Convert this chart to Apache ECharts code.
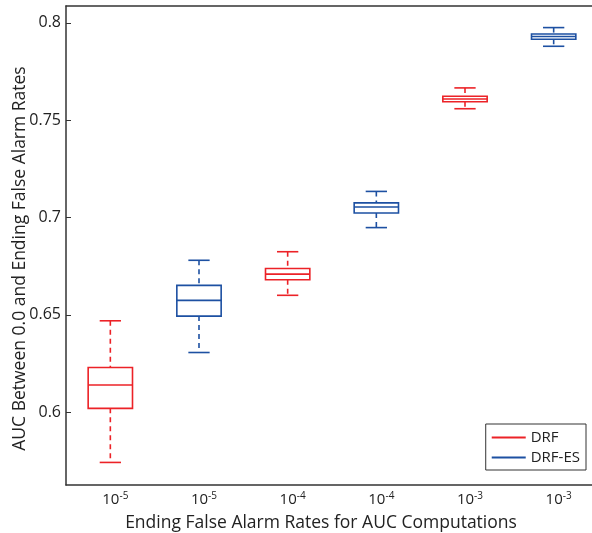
<!DOCTYPE html>
<html>
<head>
<meta charset="utf-8">
<script src="https://cdn.jsdelivr.net/npm/echarts@6/dist/echarts.min.js"></script>
<style>
  html, body { margin: 0; padding: 0; background: #fff; }
  #chart { width: 592px; height: 533px; }
</style>
</head>
<body>
<div id="chart"></div>
<script>
// tick labels along x (exponent of 10)
var categories = ['-5', '-5', '-4', '-4', '-3', '-3'];
var yTicks = [0.6, 0.65, 0.7, 0.75, 0.8];

// [category index, low whisker, q1, median, q3, high whisker]
var drfBoxes = [
    [0, 0.5741, 0.6019, 0.6139, 0.6229, 0.6469],
    [2, 0.6600, 0.6680, 0.6709, 0.6738, 0.6824],
    [4, 0.7559, 0.7595, 0.7609, 0.7623, 0.7666]
];
var drfEsBoxes = [
    [1, 0.6306, 0.6493, 0.6574, 0.6651, 0.6780],
    [3, 0.6948, 0.7023, 0.7054, 0.7075, 0.7134],
    [5, 0.7880, 0.7916, 0.7930, 0.7943, 0.7976]
];

var RED = '#ec2227';
var BLUE = '#1d50a2';
var AXIS = '#333';
var FONT = '"Open Sans", "Noto Sans", sans-serif';

function boxRenderer(color) {
    return function (params, api) {
        var x = api.value(0);
        var low = api.coord([x, api.value(1)]);
        var q1 = api.coord([x, api.value(2)]);
        var med = api.coord([x, api.value(3)]);
        var q3 = api.coord([x, api.value(4)]);
        var high = api.coord([x, api.value(5)]);
        var band = api.size([1, 0])[0];
        var bw = band * 0.25;
        var cw = band * 0.12;
        var cx = med[0];
        var solid = { stroke: color, lineWidth: 1.6, fill: null };
        var dashed = { stroke: color, lineWidth: 1.6, lineDash: [5, 4], fill: null };
        return {
            type: 'group',
            children: [
                { type: 'line', shape: { x1: cx, y1: high[1], x2: cx, y2: q3[1] }, style: dashed },
                { type: 'line', shape: { x1: cx, y1: q1[1], x2: cx, y2: low[1] }, style: dashed },
                { type: 'line', shape: { x1: cx - cw, y1: high[1], x2: cx + cw, y2: high[1] }, style: solid },
                { type: 'line', shape: { x1: cx - cw, y1: low[1], x2: cx + cw, y2: low[1] }, style: solid },
                { type: 'rect', shape: { x: cx - bw, y: q3[1], width: bw * 2, height: q1[1] - q3[1] }, style: solid },
                { type: 'line', shape: { x1: cx - bw, y1: med[1], x2: cx + bw, y2: med[1] }, style: solid }
            ]
        };
    };
}

var chart = echarts.init(document.getElementById('chart'));

var option = {
    animation: false,
    textStyle: { fontFamily: FONT },
    grid: { left: 66, right: -6, top: 6, bottom: 48, containLabel: false, outerBoundsMode: 'none' },
    legend: {
        right: 6,
        bottom: 63,
        orient: 'vertical',
        itemWidth: 34,
        itemHeight: 2,
        itemGap: 5,
        padding: [6, 6, 5, 6],
        borderColor: AXIS,
        borderWidth: 1,
        backgroundColor: '#fff',
        icon: 'rect',
        textStyle: { fontSize: 15, color: '#222', fontFamily: FONT, letterSpacing: 2.5 },
        data: [
            { name: 'DRF', itemStyle: { color: RED } },
            { name: 'DRF-ES', itemStyle: { color: BLUE } }
        ]
    },
    xAxis: [
        {
            type: 'category',
            data: categories,
            position: 'bottom',
            name: 'Ending False Alarm Rates for AUC Computations',
            nameLocation: 'middle',
            nameGap: 29,
            nameTextStyle: { fontSize: 17.5, color: '#222', fontFamily: FONT, padding: [0, 22, 0, 0] },
            axisLine: { lineStyle: { color: AXIS, width: 1.5 } },
            axisTick: { inside: true, alignWithLabel: true, interval: 0, length: 5, lineStyle: { color: AXIS } },
            axisLabel: {
                interval: 0,
                margin: 6,
                fontSize: 15,
                padding: [0, 0, 0, 10],
                formatter: function (v) { return '{b|10}{e|' + v + '}'; },
                rich: {
                    b: { fontSize: 15, color: '#222', fontFamily: FONT },
                    e: { fontSize: 10, color: '#222', fontFamily: FONT, verticalAlign: 'top', padding: [0, 0, 8, 0] }
                }
            },
            splitLine: { show: false }
        },
        {
            type: 'category',
            data: categories,
            position: 'top',
            axisLine: { lineStyle: { color: AXIS, width: 1.5 } },
            axisTick: { inside: true, alignWithLabel: true, interval: 0, length: 5, lineStyle: { color: AXIS } },
            axisLabel: { show: false },
            splitLine: { show: false }
        }
    ],
    yAxis: [
        {
            type: 'value',
            min: 0.5625,
            max: 0.8087,
            name: 'AUC Between 0.0 and Ending False Alarm Rates',
            nameLocation: 'middle',
            nameGap: 37,
            nameMoveOverlap: false,
            nameRotate: 90,
            nameTextStyle: { fontSize: 17.5, color: '#222', fontFamily: FONT, padding: [0, 26, 0, 0] },
            axisLine: { show: true, lineStyle: { color: AXIS, width: 1.5 } },
            axisTick: { show: true, inside: true, length: 5, customValues: yTicks, lineStyle: { color: AXIS } },
            axisLabel: {
                customValues: yTicks,
                fontSize: 16,
                color: '#222',
                margin: 5,
                formatter: function (v) { return String(+v.toFixed(2)); }
            },
            splitLine: { show: false }
        },
        {
            type: 'value',
            min: 0.5625,
            max: 0.8087,
            position: 'right',
            axisLine: { show: true, lineStyle: { color: AXIS, width: 1.5 } },
            axisTick: { show: true, inside: true, length: 5, customValues: yTicks, lineStyle: { color: AXIS } },
            axisLabel: { show: false },
            splitLine: { show: false }
        }
    ],
    series: [
        {
            name: 'DRF',
            type: 'custom',
            renderItem: boxRenderer(RED),
            encode: { x: 0, y: [1, 2, 3, 4, 5] },
            itemStyle: { color: RED },
            data: drfBoxes
        },
        {
            name: 'DRF-ES',
            type: 'custom',
            renderItem: boxRenderer(BLUE),
            encode: { x: 0, y: [1, 2, 3, 4, 5] },
            itemStyle: { color: BLUE },
            data: drfEsBoxes
        }
    ]
};

option && chart.setOption(option);
</script>
</body>
</html>
